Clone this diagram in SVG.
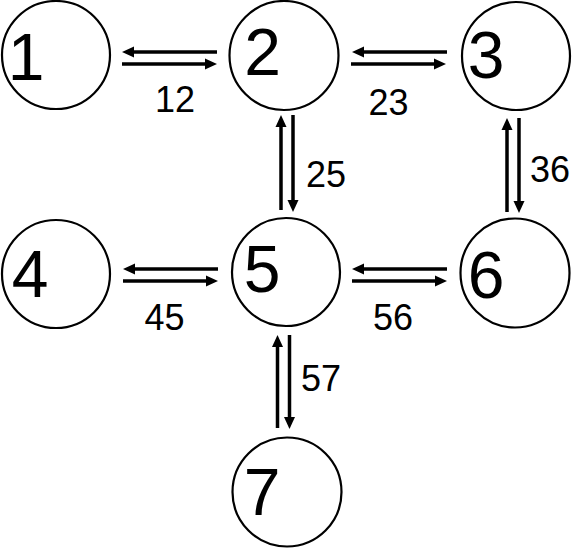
<svg xmlns="http://www.w3.org/2000/svg" width="579" height="550" viewBox="0 0 579 550">
<style>
.node circle{fill:#fff;stroke:#000;stroke-width:2.2}
.node text{font-family:"Liberation Sans",Arial,sans-serif;font-size:66px;fill:#000;text-anchor:middle}
.conn line{stroke:#000;stroke-width:3.5;marker-end:url(#ah)}
.lbl{font-family:"Liberation Sans",Arial,sans-serif;font-size:36px;fill:#000;text-anchor:middle}
</style>
<defs>
<marker id="ah" markerUnits="userSpaceOnUse" markerWidth="14" markerHeight="12" viewBox="0 -6 14 12" refX="1" refY="0" orient="auto">
<path d="M0,-5.5 L12,0 L0,5.5 z" fill="#000"/>
</marker>
</defs>
<rect width="579" height="550" fill="#fff"/>
<g id="connectors" class="conn">
<line x1="217" y1="52" x2="133" y2="52"/>
<line x1="122" y1="64" x2="206" y2="64"/>
<line x1="447" y1="52" x2="363" y2="52"/>
<line x1="351" y1="64" x2="435" y2="64"/>
<line x1="218" y1="269" x2="134" y2="269"/>
<line x1="123" y1="281" x2="207" y2="281"/>
<line x1="447" y1="269" x2="363" y2="269"/>
<line x1="352" y1="281" x2="436" y2="281"/>
<line x1="281" y1="210" x2="281" y2="126"/>
<line x1="293" y1="115" x2="293" y2="201"/>
<line x1="507" y1="212" x2="507" y2="129"/>
<line x1="519" y1="118" x2="519" y2="202"/>
<line x1="277.5" y1="428" x2="277.5" y2="346"/>
<line x1="289.5" y1="335" x2="289.5" y2="418"/>
</g>
<g id="labels">
<text class="lbl" x="175" y="112">12</text>
<text class="lbl" x="388.5" y="115">23</text>
<text class="lbl" x="326" y="187">25</text>
<text class="lbl" x="550" y="182">36</text>
<text class="lbl" x="164.5" y="330">45</text>
<text class="lbl" x="393" y="330">56</text>
<text class="lbl" x="321" y="391">57</text>
</g>
<g id="node1" class="node"><circle cx="56" cy="55" r="54"/><text x="26" y="80">1</text></g>
<g id="node2" class="node"><circle cx="284" cy="55.5" r="54.5"/><text x="262.5" y="75">2</text></g>
<g id="node3" class="node"><circle cx="516" cy="56" r="54"/><text x="486" y="78">3</text></g>
<g id="node4" class="node"><circle cx="56" cy="274" r="54"/><text x="30" y="297">4</text></g>
<g id="node5" class="node"><circle cx="286" cy="272" r="54"/><text x="262" y="292">5</text></g>
<g id="node6" class="node"><circle cx="515" cy="273" r="54.5"/><text x="486" y="298">6</text></g>
<g id="node7" class="node"><circle cx="287" cy="492" r="54.5"/><text x="262" y="515">7</text></g>
</svg>
